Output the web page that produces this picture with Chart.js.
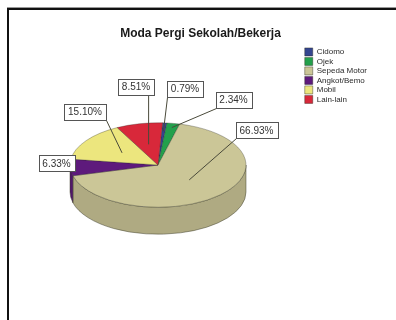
<!DOCTYPE html>
<html>
<head>
<meta charset="utf-8">
<script src="https://cdn.jsdelivr.net/npm/chart.js@4.4.1/dist/chart.umd.min.js"></script>
<style>
html,body{margin:0;padding:0;background:#fff;width:396px;height:320px;overflow:hidden;}
#wrap{position:absolute;left:0;top:0;width:396px;height:320px;}
#frame{position:absolute;left:7px;top:8px;width:420px;height:400px;border-left:2px solid #111;border-top:2px solid #111;box-shadow:0 -1px 0 #999;}
canvas{position:absolute;left:0;top:0;}
</style>
</head>
<body>
<div id="wrap">
<div id="frame"></div>
<canvas id="c" width="396" height="320"></canvas>
</div>
<script>
const categories = ['Cidomo', 'Ojek', 'Sepeda Motor', 'Angkot/Bemo', 'Mobil', 'Lain-lain'];
const shares = [0.79, 2.34, 66.93, 6.33, 15.10, 8.51];
const sliceColors = ['#34458f', '#23a04c', '#cbc697', '#5e1a7c', '#ece67e', '#d8283a'];

// label box centres and leader anchor fraction (layout only)
const labelAt = [[185, 88.5], [233.5, 99.5], [256.5, 130], [56.5, 163], [85, 111.5], [136, 86.5]];
const anchorFrac = [0.8, 0.9, 0.5, 0.95, 0.5, 0.5];

function darken(hex, f) {
  const n = parseInt(hex.slice(1), 16);
  const r = Math.round(((n >> 16) & 255) * f), g = Math.round(((n >> 8) & 255) * f), b = Math.round((n & 255) * f);
  return 'rgb(' + r + ',' + g + ',' + b + ')';
}

const GEO = {cx: 158, cy: 165, tilt: 0.48, depth: 27};

const pie3d = {
  id: 'pie3d',
  beforeDatasetsDraw(chart) {
    const meta = chart.getDatasetMeta(0);
    const els = meta.data;
    if (!els.length) return false;
    const ctx = chart.ctx;
    const {cx, cy, tilt, depth} = GEO;
    ctx.save();
    els.forEach((el, i) => {
      const p = el.getProps(['startAngle', 'endAngle', 'outerRadius'], true);
      const R = p.outerRadius, ry = R * tilt;
      const s = Math.max(p.startAngle, 0), e = Math.min(p.endAngle, Math.PI);
      if (e <= s) return;
      ctx.beginPath();
      ctx.ellipse(cx, cy, R, ry, 0, s, e, false);
      ctx.ellipse(cx, cy + depth, R, ry, 0, e, s, true);
      ctx.closePath();
      ctx.fillStyle = darken(sliceColors[i], 0.86);
      ctx.fill();
      ctx.lineWidth = 0.6;
      ctx.strokeStyle = 'rgba(60,60,40,0.8)';
      ctx.stroke();
    });
    ctx.restore();
    els.forEach((el) => {
      const p = el.getProps(['x', 'y'], true);
      ctx.save();
      ctx.translate(cx, cy);
      ctx.scale(1, tilt);
      ctx.translate(-p.x, -p.y);
      el.draw(ctx);
      ctx.restore();
    });
    return false;
  },
  afterDraw(chart) {
    const meta = chart.getDatasetMeta(0);
    const ctx = chart.ctx;
    const {cx, cy, tilt} = GEO;
    ctx.save();
    ctx.font = '10px "Liberation Sans", Arial, sans-serif';
    ctx.textAlign = 'center';
    ctx.textBaseline = 'middle';
    const boxes = meta.data.map((el, i) => {
      const txt = chart.data.datasets[0].data[i].toFixed(2) + '%';
      const w = Math.round(ctx.measureText(txt).width + 8), h = 16;
      const [bx, by] = labelAt[i];
      const x0 = Math.round(bx - w / 2) + 0.5, y0 = Math.round(by - h / 2) + 0.5;
      return {txt, x0, y0, w, h, bx, by};
    });
    meta.data.forEach((el, i) => {
      const p = el.getProps(['startAngle', 'endAngle', 'outerRadius'], true);
      const mid = (p.startAngle + p.endAngle) / 2;
      const f = anchorFrac[i];
      const ax = cx + p.outerRadius * f * Math.cos(mid);
      const ay = cy + p.outerRadius * tilt * f * Math.sin(mid);
      const b = boxes[i];
      const lx = Math.min(Math.max(ax, b.x0), b.x0 + b.w);
      const ly = Math.min(Math.max(ay, b.y0), b.y0 + b.h);
      ctx.beginPath();
      ctx.moveTo(ax, ay);
      ctx.lineTo(lx, ly);
      ctx.strokeStyle = '#4a4a3a';
      ctx.lineWidth = 1;
      ctx.stroke();
    });
    boxes.forEach((b) => {
      ctx.fillStyle = '#fff';
      ctx.fillRect(b.x0, b.y0, b.w, b.h);
      ctx.strokeStyle = '#555';
      ctx.lineWidth = 1;
      ctx.strokeRect(b.x0, b.y0, b.w, b.h);
      ctx.fillStyle = '#333';
      ctx.fillText(b.txt, b.bx, b.by + 1);
    });
    ctx.restore();
  }
};

new Chart(document.getElementById('c'), {
  type: 'pie',
  data: {
    labels: categories,
    datasets: [{
      data: shares,
      backgroundColor: sliceColors,
      borderColor: 'rgba(40,40,30,0.7)',
      borderWidth: 0.6
    }]
  },
  options: {
    responsive: false,
    animation: false,
    rotation: 3,
    radius: 88,
    layout: {padding: {right: 19, left: 24, top: 0, bottom: 0}},
    plugins: {
      tooltip: {enabled: false},
      title: {
        display: true,
        text: 'Moda Pergi Sekolah/Bekerja',
        color: '#1a1a1a',
        font: {family: '"Liberation Sans", Arial, sans-serif', size: 12, weight: 'bold'},
        padding: {top: 26, bottom: 6}
      },
      legend: {
        position: 'right',
        align: 'start',
        fullSize: false,
        labels: {
          color: '#2a2a2a',
          boxWidth: 8,
          boxHeight: 8,
          padding: 1.5,
          font: {family: '"Liberation Sans", Arial, sans-serif', size: 8}
        }
      }
    }
  },
  plugins: [pie3d]
});
</script>
</body>
</html>
